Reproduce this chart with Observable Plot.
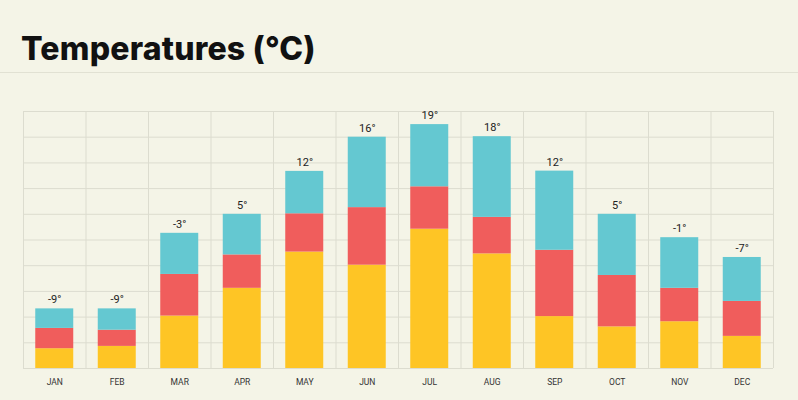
<!DOCTYPE html>
<html>
<head>
<meta charset="utf-8">
<script src="https://cdn.jsdelivr.net/npm/d3@7"></script>
<script src="https://cdn.jsdelivr.net/npm/@observablehq/plot@0.6"></script>
<style>
  html, body { margin: 0; padding: 0; background: #f4f4e7; width: 798px; height: 400px; overflow: hidden; }
  #title { height: 73px; border-bottom: 1px solid #e1e1d3; box-sizing: border-box; position: relative; }
  #title h1 { position: absolute; left: 21px; top: 33px; margin: 0; font-family: Inter, "Noto Sans", sans-serif; font-weight: 800; font-size: 32px; letter-spacing: 0.2px; color: #111; line-height: 1; }
  #chart { height: 327px; }
</style>
</head>
<body>
<div id="title"><h1>Temperatures (°C)</h1></div>
<div id="chart"></div>
<script>
const months = ["JAN","FEB","MAR","APR","MAY","JUN","JUL","AUG","SEP","OCT","NOV","DEC"];
const maxLabels = ["-9°","-9°","-3°","5°","12°","16°","19°","18°","12°","5°","-1°","-7°"];
// segment heights (in grid units), bottom to top
const lowSeg  = [0.77,0.86,2.04,3.12,4.53,4.02,5.42,4.46,2.02,1.62,1.82,1.25];
const midSeg  = [0.79,0.63,1.62,1.30,1.49,2.24,1.65,1.42,2.58,2.00,1.30,1.36];
const highSeg = [0.76,0.83,1.60,1.58,1.65,2.74,2.42,3.14,3.08,2.38,1.97,1.71];
const seriesNames = ["low","mid","high"];
const seriesColors = ["#fec525","#f05d5c","#64c8d1"];
const gridLevels = [0,1,2,3,4,5,6,7,8,9,10];

const segs = [lowSeg, midSeg, highSeg];
const rows = [];
months.forEach((m, i) => seriesNames.forEach((s, k) => rows.push({month: m, series: s, value: segs[k][i]})));
const totals = months.map((m, i) => ({month: m, total: lowSeg[i] + midSeg[i] + highSeg[i], label: maxLabels[i]}));

const W = 798, H = 327, mL = 23, mR = 25;
const step = (W - mL - mR) / months.length;

const plot = Plot.plot({
  width: W,
  height: H,
  marginTop: 38,
  marginBottom: 32,
  marginLeft: mL,
  marginRight: mR,
  style: {background: "transparent", fontFamily: "Roboto, sans-serif"},
  x: {domain: months, paddingInner: 0.392, paddingOuter: 0.196, round: false, label: null},
  y: {domain: [0, 10], axis: null},
  color: {domain: seriesNames, range: seriesColors},
  marks: [
    Plot.ruleY(gridLevels, {stroke: "#dcdccf", strokeWidth: 1, strokeOpacity: 1}),
    Plot.ruleX(months, {x: d => d, dx: -step / 2, y1: 0, y2: 10, stroke: "#dcdccf", strokeOpacity: 1}),
    Plot.ruleX([months[months.length - 1]], {x: d => d, dx: step / 2, y1: 0, y2: 10, stroke: "#dcdccf", strokeOpacity: 1}),
    Plot.barY(rows, Plot.stackY({x: "month", y: "value", fill: "series", order: seriesNames})),
    Plot.text(totals, {x: "month", y: "total", text: "label", dy: -9, fontSize: 11, fill: "#222", fontFamily: "Roboto, sans-serif"}),
    Plot.axisX({tickSize: 0, tickPadding: 10, fontSize: 8.5, fill: "#333", label: null})
  ]
});
document.getElementById("chart").appendChild(plot);
</script>
</body>
</html>
